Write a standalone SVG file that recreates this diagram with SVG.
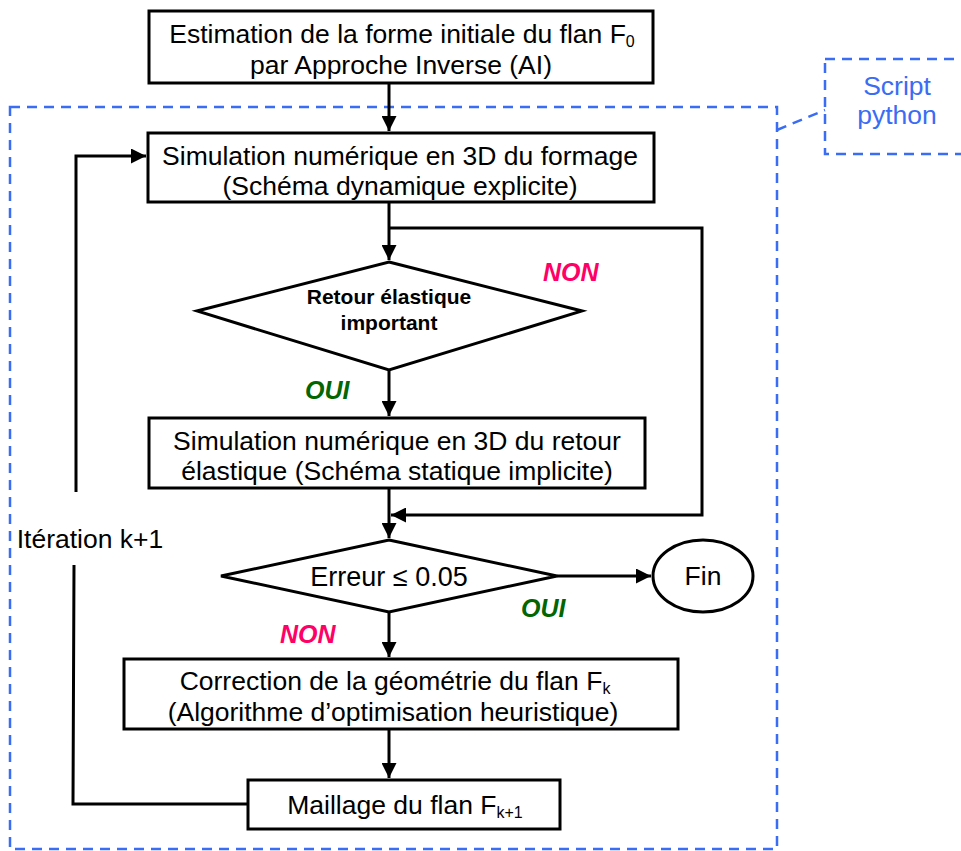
<svg xmlns="http://www.w3.org/2000/svg" width="961" height="851" viewBox="0 0 961 851">
<defs>
<style>
.box{fill:#fff;stroke:#000;stroke-width:3}
.ln{fill:none;stroke:#000;stroke-width:3}
.t{font-family:"Liberation Sans",Arial,sans-serif;font-size:26.5px;fill:#000;text-anchor:middle}
.b{font-weight:bold;font-size:21px}
.sub{font-size:16px}
.non{font-family:"Liberation Sans",Arial,sans-serif;font-size:25px;font-weight:bold;font-style:italic;fill:#ff0066}
.oui{font-family:"Liberation Sans",Arial,sans-serif;font-size:25px;font-weight:bold;font-style:italic;fill:#006600}
.dash{fill:none;stroke:#3a6cf4;stroke-width:2.5;stroke-dasharray:10,7}
.blue{font-family:"Liberation Sans",Arial,sans-serif;font-size:26.5px;fill:#3a6cf4;text-anchor:middle}
</style>
<marker id="ah" viewBox="0 0 10 10" refX="10" refY="5" markerWidth="5" markerHeight="5" orient="auto" markerUnits="strokeWidth">
<path d="M0,0 L10,5 L0,10 z" fill="#000"/>
</marker>
</defs>
<rect width="961" height="851" fill="#fff"/>
<g id="script-frame">
<rect class="dash" x="10" y="107" width="767" height="742"/>
<rect class="dash" x="825" y="59" width="150" height="95"/>
<path class="dash" d="M777,130 L825,110"/>
<text class="blue" x="897" y="95">Script</text>
<text class="blue" x="897" y="124">python</text>
</g>
<g id="connectors">
<path class="ln" d="M389,83 V131" marker-end="url(#ah)"/>
<path class="ln" d="M389,202 V260" marker-end="url(#ah)"/>
<path class="ln" d="M389,228 H702 V515 H391" marker-end="url(#ah)"/>
<path class="ln" d="M389,370 V416" marker-end="url(#ah)"/>
<path class="ln" d="M389,488 V538" marker-end="url(#ah)"/>
<path class="ln" d="M557,576 H651" marker-end="url(#ah)"/>
<path class="ln" d="M389,612 V657" marker-end="url(#ah)"/>
<path class="ln" d="M389,729 V778" marker-end="url(#ah)"/>
<path class="ln" d="M248,804 H73 L74,565"/>
<path class="ln" d="M76,492 V156 H146" marker-end="url(#ah)"/>
</g>
<g id="n-estimation">
<rect class="box" x="149" y="11" width="504" height="72"/>
<text class="t" x="402" y="43">Estimation de la forme initiale du flan F<tspan class="sub" dy="4">0</tspan></text>
<text class="t" x="401" y="74">par Approche Inverse (AI)</text>
</g>
<g id="n-formage">
<rect class="box" x="148" y="133" width="506" height="69"/>
<text class="t" x="400" y="165">Simulation numérique en 3D du formage</text>
<text class="t" x="400" y="195">(Schéma dynamique explicite)</text>
</g>
<g id="n-retour">
<polygon class="box" points="389,262 582,311 389,370 197,311"/>
<text class="t b" x="389" y="304">Retour élastique</text>
<text class="t b" x="389" y="330">important</text>
</g>
<g id="n-simretour">
<rect class="box" x="149" y="418" width="496" height="70"/>
<text class="t" x="397" y="450">Simulation numérique en 3D du retour</text>
<text class="t" x="397" y="480">élastique (Schéma statique implicite)</text>
</g>
<g id="n-erreur">
<polygon class="box" points="389,540 557,576 389,612 221,576"/>
<text class="t" x="389" y="586" style="font-size:27px">Erreur ≤ 0.05</text>
</g>
<g id="n-fin">
<ellipse class="box" cx="703" cy="576" rx="50" ry="36"/>
<text class="t" x="703" y="585">Fin</text>
</g>
<g id="n-correction">
<rect class="box" x="124" y="659" width="554" height="70"/>
<text class="t" x="395" y="690">Correction de la géométrie du flan F<tspan class="sub" dy="4">k</tspan></text>
<text class="t" x="393" y="721">(Algorithme d’optimisation heuristique)</text>
</g>
<g id="n-maillage">
<rect class="box" x="248" y="780" width="312" height="49"/>
<text class="t" x="405" y="814">Maillage du flan F<tspan class="sub" dy="4">k+1</tspan></text>
</g>
<g id="labels">
<text class="non" x="543" y="281">NON</text>
<text class="oui" x="305" y="399">OUI</text>
<text class="oui" x="521" y="617">OUI</text>
<text class="non" x="280" y="643">NON</text>
<text class="t" x="90" y="548">Itération k+1</text>
</g>
</svg>
